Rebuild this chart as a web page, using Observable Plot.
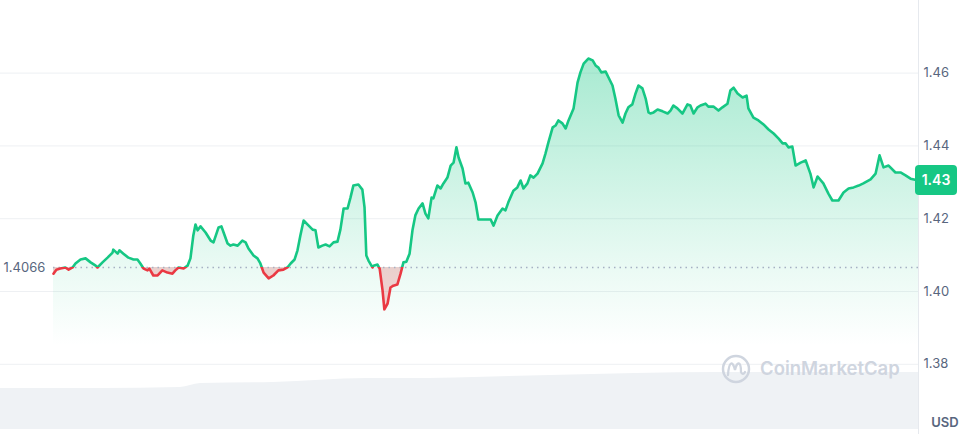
<!DOCTYPE html>
<html><head><meta charset="utf-8">
<script src="https://cdn.jsdelivr.net/npm/d3@7"></script>
<script src="https://cdn.jsdelivr.net/npm/@observablehq/plot@0.6"></script>
<style>
body{margin:0;background:#fff;font-family:Inter,"Noto Sans",sans-serif;}
#wrap{position:relative;width:972px;height:434px;overflow:hidden;background:#fff;}
#wrap svg{position:absolute;left:0;}
</style></head><body><div id="wrap"></div>
<script>
// hours since start of the 24h window
const hours = [
0.00,0.08,0.19,0.33,0.42,0.53,0.61,0.75,0.89,1.03,
1.17,1.22,1.36,1.50,1.64,1.66,1.78,1.83,1.94,2.08,
2.22,2.33,2.41,2.50,2.61,2.66,2.77,2.89,3.02,3.16,
3.30,3.38,3.47,3.61,3.72,3.80,3.88,3.94,4.00,4.08,
4.22,4.36,4.44,4.58,4.66,4.72,4.83,4.91,4.99,5.11,
5.24,5.33,5.41,5.55,5.66,5.74,5.83,5.97,6.10,6.24,
6.38,6.49,6.58,6.69,6.77,6.85,6.94,7.08,7.19,7.27,
7.35,7.46,7.55,7.66,7.77,7.88,7.96,8.05,8.16,8.24,
8.32,8.46,8.57,8.63,8.68,8.74,8.85,8.88,8.99,9.05,
9.13,9.18,9.27,9.35,9.43,9.54,9.63,9.71,9.79,9.88,
9.96,10.04,10.13,10.24,10.32,10.40,10.49,10.54,10.65,10.74,
10.82,10.93,11.02,11.10,11.18,11.24,11.35,11.43,11.51,11.63,
11.71,11.79,11.93,12.13,12.21,12.32,12.46,12.54,12.62,12.76,
12.87,12.96,13.04,13.15,13.23,13.32,13.43,13.57,13.65,13.73,
13.85,13.93,14.01,14.12,14.21,14.29,14.43,14.54,14.62,14.71,
14.84,14.96,15.04,15.12,15.20,15.32,15.40,15.51,15.59,15.68,
15.79,15.87,15.95,16.06,16.15,16.23,16.34,16.43,16.51,16.56,
16.65,16.76,16.90,17.04,17.12,17.20,17.31,17.45,17.59,17.67,
17.76,17.87,17.95,18.09,18.17,18.31,18.45,18.56,18.70,18.78,
18.87,18.98,19.12,19.23,19.28,19.42,19.56,19.70,19.84,19.98,
20.12,20.23,20.31,20.39,20.50,20.59,20.73,20.87,21.00,21.09,
21.20,21.36,21.50,21.61,21.78,21.92,22.06,22.20,22.34,22.47,
22.67,22.81,22.92,23.03,23.17,23.36,23.50,23.64,23.78,24.00];
const prices = [
1.4049,1.4060,1.4063,1.4066,1.4060,1.4066,1.4077,1.4088,1.4091,1.4080,
1.4071,1.4066,1.4080,1.4093,1.4107,1.4115,1.4104,1.4113,1.4104,1.4093,
1.4088,1.4088,1.4077,1.4063,1.4058,1.4063,1.4044,1.4044,1.4058,1.4052,
1.4049,1.4058,1.4066,1.4063,1.4071,1.4091,1.4154,1.4184,1.4168,1.4179,
1.4162,1.4140,1.4135,1.4176,1.4179,1.4162,1.4132,1.4126,1.4129,1.4126,
1.4140,1.4135,1.4118,1.4099,1.4091,1.4077,1.4052,1.4036,1.4044,1.4058,
1.4060,1.4066,1.4077,1.4088,1.4113,1.4154,1.4195,1.4181,1.4170,1.4168,
1.4121,1.4126,1.4129,1.4124,1.4135,1.4137,1.4170,1.4228,1.4228,1.4258,
1.4291,1.4294,1.4280,1.4231,1.4099,1.4085,1.4066,1.4071,1.4074,1.4063,
1.4003,1.3951,1.3967,1.4011,1.4016,1.4019,1.4049,1.4080,1.4082,1.4104,
1.4168,1.4209,1.4228,1.4242,1.4214,1.4201,1.4258,1.4256,1.4291,1.4283,
1.4297,1.4313,1.4346,1.4354,1.4396,1.4368,1.4338,1.4297,1.4299,1.4272,
1.4245,1.4198,1.4198,1.4198,1.4181,1.4209,1.4228,1.4223,1.4245,1.4277,
1.4286,1.4305,1.4283,1.4297,1.4319,1.4313,1.4324,1.4352,1.4379,1.4409,
1.4451,1.4456,1.4470,1.4462,1.4448,1.4470,1.4503,1.4574,1.4602,1.4626,
1.4640,1.4635,1.4621,1.4615,1.4602,1.4604,1.4588,1.4566,1.4530,1.4484,
1.4464,1.4489,1.4506,1.4514,1.4544,1.4566,1.4558,1.4530,1.4492,1.4489,
1.4492,1.4500,1.4495,1.4489,1.4497,1.4511,1.4503,1.4489,1.4514,1.4511,
1.4489,1.4506,1.4511,1.4516,1.4508,1.4508,1.4497,1.4506,1.4516,1.4552,
1.4560,1.4544,1.4533,1.4538,1.4503,1.4478,1.4470,1.4459,1.4445,1.4434,
1.4420,1.4407,1.4407,1.4396,1.4398,1.4346,1.4354,1.4360,1.4324,1.4286,
1.4316,1.4297,1.4269,1.4250,1.4250,1.4272,1.4283,1.4286,1.4291,1.4297,
1.4308,1.4324,1.4374,1.4341,1.4346,1.4327,1.4327,1.4319,1.4310,1.4305];
const volumeHours = [-1.47, 1.30, 3.52, 4.08, 6.10, 8.71, 9.63, 13.79, 18.51, 24.00];
const volumes = [820, 820, 840, 920, 940, 1020, 1020, 1080, 1140, 1140];
const referencePrice = 1.4066;
const priceTicks = [1.38, 1.40, 1.42, 1.44, 1.46];
const currencyLabel = "USD";
const watermarkText = "CoinMarketCap";

const n = Math.min(hours.length, prices.length);
const data = d3.range(n).map(i => ({t: hours[i], v: prices[i]}));
const vol = volumeHours.map((t, i) => ({t, v: volumes[i]}));
const xDomain = [-1.47, 24];
const yDomain = [1.36071, 1.47995];
const GREEN = "#16c784", RED = "#ea3943", AXIS = "#58667e";

const wrap = document.getElementById("wrap");

const main = Plot.plot({
  width: 972, height: 434,
  marginLeft: 0, marginRight: 54, marginTop: 0, marginBottom: 0,
  x: {domain: xDomain, axis: null},
  y: {domain: yDomain, axis: null},
  style: {fontFamily: "Inter, 'Noto Sans', sans-serif", background: "#fff"},
  marks: [
    Plot.ruleY(priceTicks, {stroke: "#eef0f3", strokeWidth: 1}),
    Plot.ruleX([xDomain[1]], {stroke: "#e6e9ee", strokeWidth: 1}),
    Plot.areaY(data, {x: "t", y1: d => Math.max(d.v, referencePrice), y2: yDomain[0], fill: "url(#gFill)"}),
    Plot.areaY(data, {x: "t", y1: d => Math.min(d.v, referencePrice), y2: referencePrice, fill: RED, fillOpacity: 0.22}),
    Plot.ruleY([referencePrice], {x1: hours[0], x2: hours[n - 1], stroke: "#a6b0c3", strokeWidth: 1.5, strokeDasharray: "1.5,4"}),
    Plot.line(data, {x: "t", y: "v", stroke: "url(#gLine)", strokeWidth: 2.6, strokeLinejoin: "round", strokeLinecap: "round"}),
    Plot.text(priceTicks, {x: xDomain[1], y: d => d, text: d => d.toFixed(2), textAnchor: "start", dx: 5, fontSize: 13, fill: AXIS}),
    Plot.text([referencePrice], {x: xDomain[0], y: d => d, text: d => d.toFixed(4), textAnchor: "start", dx: 3, fontSize: 13, fill: AXIS})
  ]
});
main.style.top = "0px";
wrap.appendChild(main);

const ys = main.scale("y"), xs = main.scale("x");
const by = ys.apply(referencePrice);
const ns = "http://www.w3.org/2000/svg";
const defs = document.createElementNS(ns, "defs");
const f0 = ys.apply(1.465), f1 = ys.apply(1.385);
const fb = (by - f0) / (f1 - f0);
defs.innerHTML =
  `<linearGradient id="gLine" gradientUnits="userSpaceOnUse" x1="0" y1="0" x2="0" y2="434">
     <stop offset="${by / 434}" stop-color="${GREEN}"/><stop offset="${by / 434}" stop-color="${RED}"/>
   </linearGradient>
   <linearGradient id="gFill" gradientUnits="userSpaceOnUse" x1="0" y1="${f0}" x2="0" y2="${f1}">
     <stop offset="0" stop-color="${GREEN}" stop-opacity="0.38"/>
     <stop offset="${fb}" stop-color="${GREEN}" stop-opacity="0.09"/>
     <stop offset="1" stop-color="${GREEN}" stop-opacity="0"/>
   </linearGradient>`;
main.insertBefore(defs, main.firstChild);

// latest price tag and currency label
const last = data[n - 1];
const ty = ys.apply(last.v);
const tx = xs.apply(xDomain[1]);
const g = document.createElementNS(ns, "g");
g.innerHTML =
  `<rect x="${tx - 3}" y="${ty - 15}" width="42" height="30" rx="4" fill="${GREEN}"/>
   <text x="${tx + 18}" y="${ty}" dy="0.35em" text-anchor="middle" fill="#fff" font-size="14" font-weight="600">${last.v.toFixed(2)}</text>
   <text x="${tx + 27}" y="422" dy="0.35em" text-anchor="middle" fill="${AXIS}" font-size="13" font-weight="600">${currencyLabel}</text>`;
main.appendChild(g);

// volume band
const volPlot = Plot.plot({
  width: 972, height: 94,
  marginLeft: 0, marginRight: 54, marginTop: 32, marginBottom: 5,
  x: {domain: xDomain, axis: null},
  y: {domain: [0, 1140], axis: null},
  style: {background: "transparent", fontFamily: "Inter, 'Noto Sans', sans-serif"},
  marks: [
    Plot.areaY(vol, {x: "t", y: "v", fill: "#eff2f5", curve: "monotone-x"})
  ]
});
volPlot.style.top = "340px";
wrap.appendChild(volPlot);

// watermark
const wm = document.createElementNS(ns, "g");
const cx = 736, cy = 29;
wm.innerHTML =
  `<circle cx="${cx}" cy="${cy}" r="13" fill="none" stroke="#cfd5df" stroke-width="2.5"/>
   <path d="M${cx - 8},${cy + 6} C${cx - 7},${cy - 9} ${cx - 3},${cy - 8} ${cx - 1},${cy + 1} C${cx + 1},${cy - 8} ${cx + 5},${cy - 8} ${cx + 5},${cy + 3} C${cx + 6},${cy + 6} ${cx + 8},${cy + 5} ${cx + 9},${cy + 3}" fill="none" stroke="#cfd5df" stroke-width="2.3" stroke-linecap="round"/>
   <text x="${cx + 24}" y="${cy}" dy="0.35em" text-anchor="start" fill="#cfd5df" font-size="18.5" font-weight="600">${watermarkText}</text>`;
volPlot.appendChild(wm);
</script></body></html>
